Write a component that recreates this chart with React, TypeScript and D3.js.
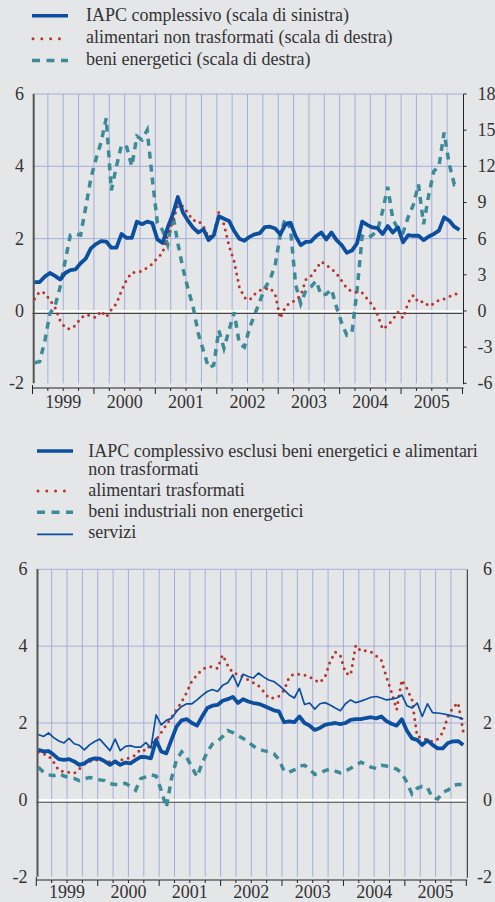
import React from 'react';
import * as d3 from 'd3';

// ---------- data (monthly, Jan 1999 .. Dec 2005) ----------
const years = ['1999', '2000', '2001', '2002', '2003', '2004', '2005'];

// top panel
const iapc = [
  0.8, 0.8, 0.95, 1.05, 0.97, 0.87, 1.05, 1.13, 1.15, 1.32,
  1.45, 1.73, 1.85, 1.93, 1.92, 1.75, 1.75, 2.13, 2.02, 2.02,
  2.47, 2.4, 2.47, 2.43, 1.98, 1.88, 2.3, 2.67, 3.15, 2.72,
  2.49, 2.3, 2.17, 2.26, 1.96, 2.09, 2.62, 2.55, 2.49, 2.21,
  2.0, 1.94, 2.05, 2.12, 2.15, 2.32, 2.33, 2.28, 2.12, 2.39,
  2.44, 2.07, 1.82, 1.91, 1.92, 2.07, 2.17, 1.98, 2.17, 1.96,
  1.82, 1.61, 1.67, 1.87, 2.47, 2.38, 2.31, 2.29, 2.13, 2.35,
  2.17, 2.31, 1.9, 2.1, 2.08, 2.08, 1.96, 2.06, 2.13, 2.22,
  2.59, 2.5, 2.33, 2.24,
];
const alimNonTrasf = [
  1.0, 1.6, 1.5, 0.9, 0.3, -0.8, -1.4, -1.5, -1.2, -0.6,
  -0.3, -0.4, -0.55, 0.0, -0.5, 0.1, 0.6, 1.7, 2.6, 3.2,
  3.2, 3.3, 3.6, 3.9, 4.4, 4.8, 6.3, 7.4, 8.8, 8.7,
  8.1, 7.5, 7.5, 7.0, 6.1, 6.4, 8.2, 7.2, 5.4, 4.1,
  2.0, 1.1, 0.9, 1.4, 1.7, 1.8, 1.9, 1.4, -0.6, 0.35,
  0.7, 0.9, 1.3, 2.6, 2.9, 3.5, 4.1, 3.8, 3.5, 3.1,
  2.5, 1.9, 1.6, 1.55, 1.5, 1.0, 0.5, -0.3, -1.5, -1.2,
  -0.7, -0.1, -0.6, 0.7, 1.3, 0.7, 0.8, 0.4, 0.6, 0.9,
  1.0, 1.2, 1.3, 1.6,
];
const beniEnerg = [
  -4.3, -4.2, -2.5, -0.2, 0.4, 2.0, 4.2, 6.3, 6.4, 6.3,
  8.6, 11.0, 12.6, 14.0, 16.0, 10.0, 12.0, 13.8, 13.6, 12.0,
  14.5, 14.2, 15.0, 11.0, 7.3, 6.7, 5.5, 8.0, 5.6, 3.5,
  1.8, 0.3, -1.9, -3.3, -4.7, -4.5, -1.6, -3.1, -1.6, -0.1,
  -2.7, -3.0, -1.4, -0.3, 0.8, 1.9, 2.6, 3.8, 6.3, 7.7,
  6.8, 2.2, 0.6, 1.7, 2.0, 2.5, 1.3, 1.4, 1.8, 0.3,
  -1.0, -2.0, -1.8, 1.7, 6.2, 6.0, 6.3, 6.7, 8.3, 10.3,
  7.6, 6.8, 6.5, 7.8, 8.8, 10.5, 7.2, 9.6, 11.6, 12.0,
  14.8, 12.2, 10.5, 10.7,
];

// bottom panel
const iapcCore = [
  1.3, 1.26, 1.27, 1.17, 1.06, 1.04, 1.06, 1.0, 0.91, 0.95,
  1.04, 1.08, 1.07, 1.0, 0.91, 1.0, 0.91, 0.97, 0.95, 1.04,
  1.12, 1.11, 1.08, 1.56, 1.26, 1.21, 1.56, 1.91, 2.07, 2.1,
  2.0, 1.93, 2.17, 2.39, 2.45, 2.47, 2.58, 2.62, 2.68, 2.52,
  2.62, 2.56, 2.52, 2.5, 2.45, 2.39, 2.33, 2.3, 2.02, 2.04,
  2.02, 2.17, 2.0, 1.93, 1.82, 1.87, 1.95, 1.98, 2.0, 1.97,
  2.0, 2.08, 2.1, 2.1, 2.13, 2.15, 2.12, 2.17, 2.05, 1.98,
  1.93, 2.1, 1.8, 1.6, 1.56, 1.43, 1.55, 1.43, 1.34, 1.34,
  1.48, 1.52, 1.53, 1.43,
];
const alimTrasf = [
  1.24, 1.2, 1.15, 0.98, 0.76, 0.74, 0.72, 0.69, 0.8, 0.93,
  1.0, 1.04, 1.04, 1.04, 0.98, 1.0, 1.04, 1.06, 1.1, 1.17,
  1.32, 1.28, 1.45, 1.56, 1.75, 1.95, 2.15, 2.35, 2.55, 2.8,
  3.1, 3.25, 3.4, 3.45, 3.47, 3.42, 3.77, 3.5, 3.3, 3.27,
  3.2, 3.12, 3.05, 2.97, 2.82, 2.65, 2.65, 2.7, 2.85, 3.2,
  3.28, 3.27, 3.25, 3.2, 3.12, 3.05, 3.2, 3.6, 3.85, 3.75,
  3.3, 3.25, 4.02, 3.87, 3.88, 3.85, 3.75, 3.63, 3.2, 2.8,
  2.35, 3.12, 2.9, 2.6, 1.65, 1.62, 1.55, 1.52, 1.58, 1.75,
  2.17, 2.4, 2.53, 1.78,
];
const beniIndNonEn = [
  0.85, 0.72, 0.65, 0.63, 0.68, 0.62, 0.58, 0.56, 0.5, 0.55,
  0.58, 0.56, 0.52, 0.5, 0.42, 0.4, 0.4, 0.43, 0.35, 0.25,
  0.55, 0.6, 0.65, 0.62, 0.25, -0.2, 0.55, 1.05, 1.25, 1.1,
  0.85, 0.6, 0.95, 1.25, 1.45, 1.52, 1.65, 1.8, 1.75, 1.67,
  1.6, 1.5, 1.4, 1.32, 1.28, 1.25, 1.2, 1.05, 0.75, 0.72,
  0.78, 0.88, 0.9, 0.8, 0.66, 0.7, 0.76, 0.8, 0.75, 0.7,
  0.75, 0.82, 0.9, 0.98, 0.92, 0.85, 0.82, 0.9, 0.88, 0.85,
  0.8, 0.7, 0.45, 0.15, 0.3, 0.35, 0.32, 0.05, 0.02, 0.2,
  0.25, 0.38, 0.4, 0.4,
];
const servizi = [
  1.7, 1.65, 1.74, 1.62, 1.53, 1.48, 1.6, 1.46, 1.42, 1.3,
  1.43, 1.52, 1.58, 1.43, 1.28, 1.58, 1.28, 1.39, 1.41, 1.37,
  1.37, 1.49, 1.35, 2.21, 1.95, 2.07, 2.12, 2.3, 2.43, 2.5,
  2.5, 2.6, 2.72, 2.82, 2.87, 2.82, 2.98, 3.05, 3.25, 2.95,
  3.27, 3.21, 3.17, 3.3, 3.2, 3.12, 3.08, 2.98, 2.86, 2.73,
  2.65, 2.9, 2.48, 2.52, 2.36, 2.5, 2.53, 2.47, 2.39, 2.32,
  2.5, 2.6, 2.53, 2.57, 2.62, 2.67, 2.69, 2.65, 2.6, 2.62,
  2.65, 2.73, 2.45, 2.39, 2.52, 2.17, 2.5, 2.27, 2.26, 2.24,
  2.21, 2.18, 2.15, 2.1,
];

const leftTicks = [6, 4, 2, 0, -2];
const rightTicksTop = [18, 15, 12, 9, 6, 3, 0, -3, -6];
const rightTicksBottom = [6, 4, 2, 0, -2];

const legendTop = [
  'IAPC complessivo (scala di sinistra)',
  'alimentari non trasformati (scala di destra)',
  'beni energetici (scala di destra)',
];
const legendBottom = [
  ['IAPC complessivo esclusi beni energetici e alimentari', 'non trasformati'],
  ['alimentari trasformati'],
  ['beni industriali non energetici'],
  ['servizi'],
];

// ---------- styles ----------
const BG = '#e5e6e8';
const GRID = '#a5aedb';
const BLUE = '#0b4f9e';
const RED = '#b8352b';
const TEAL = '#3d8b98';
const TEXT = '#333333';
const AXIS = '#555555';
const FONT = "'Liberation Serif'";
const FS = 18;

const NMONTHS = 84;
const OFFSET = 0.4;

type Line = { values: number[]; scale: 'left' | 'right'; kind: 'thick' | 'thin' | 'dot' | 'dash' };

function styleFor(kind: Line['kind']) {
  switch (kind) {
    case 'thick':
      return { stroke: BLUE, strokeWidth: 3.8, strokeLinejoin: 'round' as const };
    case 'thin':
      return { stroke: BLUE, strokeWidth: 1.7, strokeLinejoin: 'round' as const };
    case 'dot':
      return { stroke: RED, strokeWidth: 3, strokeDasharray: '0 6.5', strokeLinecap: 'round' as const };
    case 'dash':
      return { stroke: TEAL, strokeWidth: 3.5, strokeDasharray: '7 6' };
  }
}

function Label(props: { x: number; y: number; anchor?: 'start' | 'middle' | 'end'; size?: number; children: React.ReactNode }) {
  return (
    <text x={props.x} y={props.y} textAnchor={props.anchor || 'start'} fontSize={props.size || FS} fill={TEXT} style={{ fontFamily: FONT }}>
      {props.children}
    </text>
  );
}

function Panel(props: {
  x0: number; x1: number; yTop: number; yBot: number; axisY: number; yearY: number;
  lines: Line[]; rightTicks: number[]; rightMin: number; rightMax: number;
  leftLabelX: number; rightLabelX: number; rightAnchor: 'start' | 'end'; rightAxisTicks: boolean;
}) {
  const { x0, x1, yTop, yBot, axisY, yearY, lines, rightTicks, rightMin, rightMax } = props;
  const x = d3.scaleLinear().domain([0, NMONTHS]).range([x0, x1]);
  const yL = d3.scaleLinear().domain([-2, 6]).range([yBot, yTop]);
  const yR = d3.scaleLinear().domain([rightMin, rightMax]).range([yBot, yTop]);
  const quarters = d3.range(0, NMONTHS + 1, 3);
  const y0 = yL(0);

  return (
    <g>
      {quarters.filter((q) => q > 0 && q < NMONTHS).map((q) => (
        <line key={'v' + q} x1={x(q)} x2={x(q)} y1={yTop} y2={yBot} stroke={GRID} strokeWidth={1} />
      ))}
      {leftTicks.filter((t) => t > 0).map((t) => (
        <line key={'h' + t} x1={x0} x2={x1} y1={yL(t)} y2={yL(t)} stroke={GRID} strokeWidth={1} />
      ))}
      <line x1={x0} x2={x1} y1={y0 + 0.5} y2={y0 + 0.5} stroke="#ffffff" strokeWidth={2.5} />
      <line x1={x0} x2={x1} y1={y0 + 2.4} y2={y0 + 2.4} stroke="#444" strokeWidth={1.1} />
      <line x1={x0 + 1.2} x2={x0 + 1.2} y1={yTop} y2={yBot} stroke={AXIS} strokeWidth={2} />
      <line x1={x1 + 1} x2={x1 + 1} y1={yTop} y2={yBot + 1} stroke="#222" strokeWidth={1} />
      {props.rightAxisTicks && rightTicks.map((t) => (
        <line key={'rt' + t} x1={x1 + 1} x2={x1 + 4} y1={yR(t)} y2={yR(t)} stroke="#222" strokeWidth={1} />
      ))}
      <line x1={x0} x2={x1 + 1} y1={axisY} y2={axisY} stroke="#222" strokeWidth={1} />
      {quarters.map((q) => (
        <line key={'xt' + q} x1={x(q)} x2={x(q)} y1={axisY - (q === 0 ? 3 : 0)} y2={axisY + (q % 12 === 0 ? 6 : 3)} stroke="#222" strokeWidth={1} />
      ))}
      {years.map((yr, k) => (
        <Label key={yr} x={x(k * 12 + 6)} y={yearY} anchor="middle">{yr}</Label>
      ))}
      {leftTicks.map((t) => (
        <Label key={'ll' + t} x={props.leftLabelX} y={yL(t) + 6} anchor="end">{t}</Label>
      ))}
      {rightTicks.map((t) => (
        <Label key={'rl' + t} x={props.rightLabelX} y={yR(t) + 6} anchor={props.rightAnchor}>{t}</Label>
      ))}
      {lines.map((ln, k) => {
        const ys = ln.scale === 'left' ? yL : yR;
        const gen = d3.line<number>().x((_, i) => x(i + OFFSET)).y((v) => ys(v));
        return <path key={'s' + k} d={gen(ln.values) || ''} fill="none" {...styleFor(ln.kind)} />;
      })}
    </g>
  );
}

function LegendSample({ kind, x, y }: { kind: Line['kind']; x: number; y: number }) {
  const w = 36;
  if (kind === 'dot') {
    return <line x1={x + 1} x2={x + w} y1={y} y2={y} stroke={RED} strokeWidth={3} strokeDasharray="0 8.8" strokeLinecap="round" />;
  }
  if (kind === 'dash') {
    return <line x1={x} x2={x + w} y1={y} y2={y} stroke={TEAL} strokeWidth={3.5} strokeDasharray="8 6.5" />;
  }
  return <line x1={x} x2={x + w} y1={y} y2={y} stroke={BLUE} strokeWidth={kind === 'thick' ? 3.5 : 1.8} />;
}

export default function App() {
  return (
    <svg
      width={495}
      height={902}
      viewBox="0 0 495 902"
      style={{ position: 'absolute', left: 0, top: 0, background: BG }}
    >
      <rect x={0} y={0} width={495} height={902} fill={BG} />

      {(['thick', 'dot', 'dash'] as Line['kind'][]).map((k, i) => (
        <g key={'lt' + i}>
          <LegendSample kind={k} x={32} y={[15.7, 38.8, 60.5][i]} />
          <Label x={86} y={[20.7, 43.3, 65][i]}>{legendTop[i]}</Label>
        </g>
      ))}

      <Panel
        x0={32.5} x1={462.5} yTop={94} yBot={383.3} axisY={388} yearY={407.5}
        lines={[
          { values: beniEnerg, scale: 'right', kind: 'dash' },
          { values: alimNonTrasf, scale: 'right', kind: 'dot' },
          { values: iapc, scale: 'left', kind: 'thick' },
        ]}
        rightTicks={rightTicksTop} rightMin={-6} rightMax={18}
        leftLabelX={24} rightLabelX={477.5} rightAnchor="start" rightAxisTicks={true}
      />

      {(['thick', 'dot', 'dash', 'thin'] as Line['kind'][]).map((k, i) => (
        <g key={'lb' + i}>
          <LegendSample kind={k} x={37} y={[451, 491, 512.3, 534.3][i]} />
          {legendBottom[i].map((t, j) => (
            <Label key={j} x={88.3} y={[457, 496, 517.3, 538.3][i] + j * 18.3}>{t}</Label>
          ))}
        </g>
      ))}

      <Panel
        x0={36.3} x1={466.3} yTop={569.3} yBot={876.7} axisY={880} yearY={898}
        lines={[
          { values: beniIndNonEn, scale: 'left', kind: 'dash' },
          { values: alimTrasf, scale: 'left', kind: 'dot' },
          { values: servizi, scale: 'left', kind: 'thin' },
          { values: iapcCore, scale: 'left', kind: 'thick' },
        ]}
        rightTicks={rightTicksBottom} rightMin={-2} rightMax={6}
        leftLabelX={27.5} rightLabelX={492} rightAnchor="end" rightAxisTicks={false}
      />
    </svg>
  );
}
